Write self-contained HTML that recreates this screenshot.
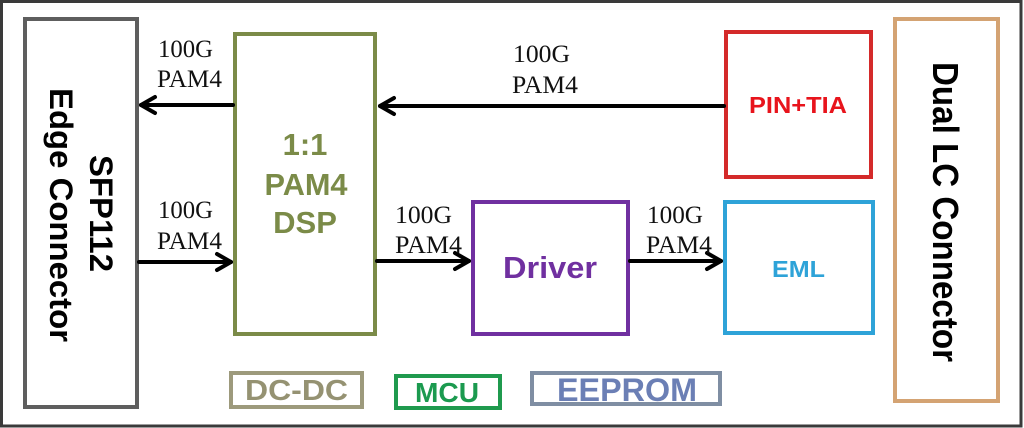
<!DOCTYPE html>
<html>
<head>
<meta charset="utf-8">
<style>
html,body{margin:0;padding:0;background:#fff;}
body{width:1024px;height:428px;overflow:hidden;}
svg{display:block;}
.b{font-family:"Liberation Sans",Arial,sans-serif;font-weight:bold;}
.s{font-family:"Liberation Serif","Times New Roman",serif;font-size:25px;fill:#111;}
</style>
</head>
<body>
<svg width="1024" height="428" viewBox="0 0 1024 428" xmlns="http://www.w3.org/2000/svg">
  <rect x="0" y="0" width="1024" height="428" fill="#fff"/>
  <!-- outer frame -->
  <rect x="1.5" y="1.5" width="1019.5" height="424.5" fill="none" stroke="#3a3a3a" stroke-width="3"/>

  <!-- SFP112 box -->
  <rect x="25" y="19" width="112" height="388" fill="none" stroke="#5e5e5e" stroke-width="4"/>
  <text class="b" font-size="32" fill="#000" text-anchor="middle" textLength="117" lengthAdjust="spacingAndGlyphs" transform="translate(90,213.5) rotate(90)">SFP112</text>
  <text class="b" font-size="32" fill="#000" text-anchor="middle" textLength="254" lengthAdjust="spacingAndGlyphs" transform="translate(50,215) rotate(90)">Edge Connector</text>

  <!-- DSP box -->
  <rect x="235" y="34" width="140" height="300" fill="none" stroke="#7b8b48" stroke-width="4"/>
  <text class="b" font-size="31" fill="#7b8b48" text-anchor="middle" x="305" y="155">1:1</text>
  <text class="b" font-size="31" fill="#7b8b48" text-anchor="middle" x="306" y="195" textLength="83" lengthAdjust="spacingAndGlyphs">PAM4</text>
  <text class="b" font-size="31" fill="#7b8b48" text-anchor="middle" x="305" y="233">DSP</text>

  <!-- PIN+TIA -->
  <rect x="726" y="32" width="145" height="145" fill="none" stroke="#d42a2a" stroke-width="4"/>
  <text class="b" font-size="23" fill="#e8141c" text-anchor="middle" x="798" y="113" textLength="98" lengthAdjust="spacingAndGlyphs">PIN+TIA</text>

  <!-- Dual LC -->
  <rect x="895" y="19" width="103" height="382" fill="none" stroke="#d4a373" stroke-width="4"/>
  <text class="b" font-size="36" fill="#000" text-anchor="middle" textLength="300" lengthAdjust="spacingAndGlyphs" transform="translate(933,212) rotate(90)">Dual LC Connector</text>

  <!-- Driver -->
  <rect x="473" y="202" width="155" height="132" fill="none" stroke="#7030a0" stroke-width="4"/>
  <text class="b" font-size="31" fill="#7030a0" text-anchor="middle" x="550" y="278" textLength="94" lengthAdjust="spacingAndGlyphs">Driver</text>

  <!-- EML -->
  <rect x="725" y="202" width="148" height="131" fill="none" stroke="#2ea3d8" stroke-width="4"/>
  <text class="b" font-size="23" fill="#2ea3d8" text-anchor="middle" x="798.5" y="277" textLength="53" lengthAdjust="spacingAndGlyphs">EML</text>

  <!-- DC-DC -->
  <rect x="231" y="373" width="131" height="34" fill="none" stroke="#9d9a7c" stroke-width="4"/>
  <text class="b" font-size="29" fill="#959272" text-anchor="middle" x="296.5" y="400" textLength="103" lengthAdjust="spacingAndGlyphs">DC-DC</text>

  <!-- MCU -->
  <rect x="396" y="376" width="104" height="32" fill="none" stroke="#1f9a4e" stroke-width="4"/>
  <text class="b" font-size="28" fill="#1b9a4f" text-anchor="middle" x="447" y="402" textLength="64" lengthAdjust="spacingAndGlyphs">MCU</text>

  <!-- EEPROM -->
  <rect x="532" y="373" width="188" height="31" fill="none" stroke="#7f8ea3" stroke-width="4"/>
  <text class="b" font-size="32" fill="#6b7fb5" text-anchor="middle" x="627" y="401" textLength="140" lengthAdjust="spacingAndGlyphs">EEPROM</text>

  <!-- Arrows -->
  <g stroke="#000" stroke-width="4" fill="none" stroke-linecap="round" stroke-linejoin="round">
    <line x1="233" y1="105" x2="141" y2="105"/>
    <polyline points="155,97 141,105 155,113"/>
    <line x1="139" y1="262" x2="231" y2="262"/>
    <polyline points="217,254 231,262 217,270"/>
    <line x1="724" y1="106" x2="380" y2="106"/>
    <polyline points="394,98 380,106 394,114"/>
    <line x1="377" y1="261" x2="469" y2="261"/>
    <polyline points="455,253 469,261 455,269"/>
    <line x1="630" y1="261" x2="721" y2="261"/>
    <polyline points="707,253 721,261 707,269"/>
  </g>

  <!-- Labels -->
  <text class="s" x="158" y="57" textLength="55" lengthAdjust="spacingAndGlyphs">100G</text>
  <text class="s" x="157" y="87" textLength="65" lengthAdjust="spacingAndGlyphs">PAM4</text>
  <text class="s" x="158" y="218" textLength="55" lengthAdjust="spacingAndGlyphs">100G</text>
  <text class="s" x="157" y="249" textLength="65" lengthAdjust="spacingAndGlyphs">PAM4</text>
  <text class="s" x="513" y="62" textLength="57" lengthAdjust="spacingAndGlyphs">100G</text>
  <text class="s" x="512" y="93" textLength="66" lengthAdjust="spacingAndGlyphs">PAM4</text>
  <text class="s" x="395" y="223" textLength="57" lengthAdjust="spacingAndGlyphs">100G</text>
  <text class="s" x="395" y="253" textLength="67" lengthAdjust="spacingAndGlyphs">PAM4</text>
  <text class="s" x="647" y="223" textLength="56" lengthAdjust="spacingAndGlyphs">100G</text>
  <text class="s" x="646" y="253" textLength="66" lengthAdjust="spacingAndGlyphs">PAM4</text>
</svg>
</body>
</html>
